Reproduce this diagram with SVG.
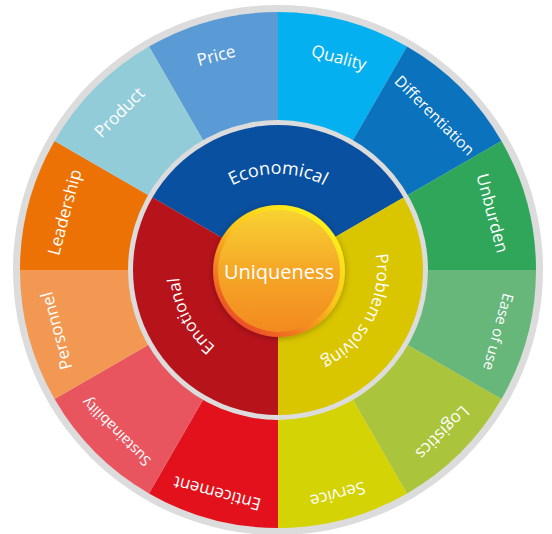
<svg xmlns="http://www.w3.org/2000/svg" width="552" height="534" viewBox="0 0 552 534">
  <defs>
    <linearGradient id="hubRim" x1="0.8" y1="0.1" x2="0.2" y2="0.9">
      <stop offset="0" stop-color="#fff01a"/>
      <stop offset="0.45" stop-color="#f9c51c"/>
      <stop offset="1" stop-color="#ec4f26"/>
    </linearGradient>
    <linearGradient id="hubFill" x1="0" y1="0" x2="0" y2="1">
      <stop offset="0" stop-color="#f8d232"/>
      <stop offset="0.5" stop-color="#f5a727"/>
      <stop offset="1" stop-color="#f28a1f"/>
    </linearGradient>
    <filter id="hubShadow" x="-20%" y="-20%" width="140%" height="140%">
      <feDropShadow dx="0" dy="1" stdDeviation="3" flood-color="#000" flood-opacity="0.3"/>
    </filter>
    <path id="arcEconomical" d="M194.86,222 A96,96 0 0 1 361.14,222"/>
    <path id="arcProblem" d="M363.73,220.5 A99,99 0 0 1 278,369"/>
    <path id="arcEmotional" d="M278,369 A99,99 0 0 1 192.27,220.5"/>
  </defs>
  <style>
    text { font-family: "Open Sans", "DejaVu Sans", sans-serif; fill: #ffffff; }
    .outer { font-size: 17px; text-anchor: middle; dominant-baseline: central; }
    .inner { font-size: 17px; text-anchor: middle; }
    .ring { fill: #dcdcdc; }
  </style>

  <!-- outer grey rim -->
  <circle class="ring" cx="278" cy="270" r="265"/>

  <!-- outer segments -->
  <g id="price">
    <path d="M278,270 L149,46.57 A258,258 0 0 1 278,12 Z" fill="#5b9bd5"/>
    <text class="outer" x="216" y="55" transform="rotate(-15 216 55)">Price</text>
  </g>
  <g id="quality">
    <path d="M278,270 L278,12 A258,258 0 0 1 407,46.57 Z" fill="#05b0f0"/>
    <text class="outer" x="339" y="57" transform="rotate(15 339 57)">Quality</text>
  </g>
  <g id="differentiation">
    <path d="M278,270 L407,46.57 A258,258 0 0 1 501.43,141 Z" fill="#0b72bd"/>
    <text class="outer" x="435" y="115" transform="rotate(45 435 115)" style="font-size:15.5px">Differentiation</text>
  </g>
  <g id="unburden">
    <path d="M278,270 L501.43,141 A258,258 0 0 1 536,270 Z" fill="#2fa65a"/>
    <text class="outer" x="493" y="213" transform="rotate(75 493 213)">Unburden</text>
  </g>
  <g id="ease-of-use">
    <path d="M278,270 L536,270 A258,258 0 0 1 501.43,399 Z" fill="#67b67a"/>
    <text class="outer" x="499" y="332" transform="rotate(105 499 332)" style="font-size:15px">Ease of use</text>
  </g>
  <g id="logistics">
    <path d="M278,270 L501.43,399 A258,258 0 0 1 407,493.43 Z" fill="#aac53c"/>
    <text class="outer" x="443" y="433" transform="rotate(135 443 433)">Logistics</text>
  </g>
  <g id="service">
    <path d="M278,270 L407,493.43 A258,258 0 0 1 278,528 Z" fill="#d3d305"/>
    <text class="outer" x="338" y="495" transform="rotate(165 338 495)">Service</text>
  </g>
  <g id="enticement">
    <path d="M278,270 L278,528 A258,258 0 0 1 149,493.43 Z" fill="#e2111c"/>
    <text class="outer" x="217" y="494" transform="rotate(195 217 494)">Enticement</text>
  </g>
  <g id="sustainability">
    <path d="M278,270 L149,493.43 A258,258 0 0 1 54.57,399 Z" fill="#e8555f"/>
    <text class="outer" x="116" y="432" transform="rotate(225 116 432)" style="font-size:14.5px">Sustainability</text>
  </g>
  <g id="personnel">
    <path d="M278,270 L54.57,399 A258,258 0 0 1 20,270 Z" fill="#f29852"/>
    <text class="outer" x="56" y="331" transform="rotate(255 56 331)">Personnel</text>
  </g>
  <g id="leadership">
    <path d="M278,270 L20,270 A258,258 0 0 1 54.57,141 Z" fill="#ec7206"/>
    <text class="outer" x="64" y="212" transform="rotate(285 64 212)">Leadership</text>
  </g>
  <g id="product">
    <path d="M278,270 L54.57,141 A258,258 0 0 1 149,46.57 Z" fill="#92ccd9"/>
    <text class="outer" x="119" y="112" transform="rotate(315 119 112)">Product</text>
  </g>

  <!-- inner grey band -->
  <circle class="ring" cx="278" cy="270" r="150"/>

  <!-- inner segments -->
  <g id="economical">
    <path d="M278,270 L152.43,197.5 A145,145 0 0 1 403.57,197.5 Z" fill="#0a50a0"/>
    <text class="inner" style="font-size:18px"><textPath href="#arcEconomical" startOffset="50%">Economical</textPath></text>
  </g>
  <g id="problem-solving">
    <path d="M278,270 L403.57,197.5 A145,145 0 0 1 278,415 Z" fill="#d9c500"/>
    <text class="inner"><textPath href="#arcProblem" startOffset="48%">Problem solving</textPath></text>
  </g>
  <g id="emotional">
    <path d="M278,270 L278,415 A145,145 0 0 1 152.43,197.5 Z" fill="#b7131b"/>
    <text class="inner"><textPath href="#arcEmotional" startOffset="52%">Emotional</textPath></text>
  </g>

  <!-- hub -->
  <g id="uniqueness">
    <circle cx="279" cy="271" r="66" fill="url(#hubRim)" filter="url(#hubShadow)"/>
    <circle cx="279" cy="271" r="61" fill="url(#hubFill)"/>
    <text x="279" y="271" style="font-size:20px" text-anchor="middle" dominant-baseline="central">Uniqueness</text>
  </g>
</svg>
